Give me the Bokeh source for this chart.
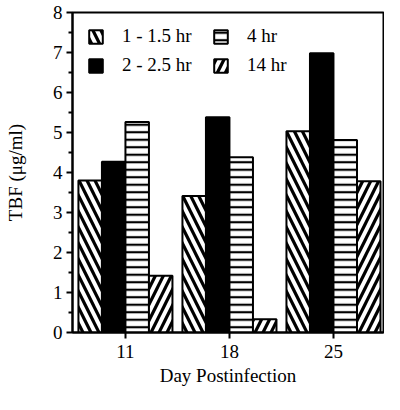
from bokeh.plotting import figure
from bokeh.models import ColumnDataSource, FixedTicker, Legend, LegendItem, Range1d
from bokeh.embed import file_html
from bokeh.resources import INLINE

days = ["11", "18", "25"]
series_names = ["1 - 1.5 hr", "2 - 2.5 hr", "4 hr", "14 hr"]
v_1_15 = [3.80, 3.41, 5.03]
v_2_25 = [4.27, 5.38, 6.98]
v_4 = [5.26, 4.38, 4.81]
v_14 = [1.42, 0.33, 3.78]
y_ticks = [0, 1, 2, 3, 4, 5, 6, 7, 8]
y_minor_ticks = [0.5, 1.5, 2.5, 3.5, 4.5, 5.5, 6.5, 7.5]

FONT = "Liberation Serif"

p = figure(width=384, height=394, output_backend="svg", toolbar_location=None,
           x_range=Range1d(-0.509, 2.481), y_range=Range1d(0, 8),
           min_border_left=72, min_border_top=12, min_border_bottom=62, min_border_right=1)

xs = list(range(len(days)))
w = 0.226
offsets = [-1.5 * w, -0.5 * w, 0.5 * w, 1.5 * w]
styles = [
    dict(fill_color="white", hatch_pattern="\\", hatch_color="black", hatch_scale=16, hatch_weight=3.2),
    dict(fill_color="black"),
    dict(fill_color="white", hatch_pattern="-", hatch_color="black", hatch_scale=7.5, hatch_weight=2.2),
    dict(fill_color="white", hatch_pattern="/", hatch_color="black", hatch_scale=16, hatch_weight=3.2),
]
vals = [v_1_15, v_2_25, v_4, v_14]
items = []
for name, v, off, st in zip(series_names, vals, offsets, styles):
    src = ColumnDataSource(dict(x=[x + off for x in xs], top=v))
    r = p.vbar(x="x", top="top", width=w, source=src, line_color="black",
               line_width=2, **st)
    items.append(LegendItem(label=name, renderers=[r]))

legend = Legend(items=items, location=(15, 256), ncols=2,
                glyph_width=17, glyph_height=17, label_standoff=18,
                label_width=83, label_height=20,
                label_text_font=FONT, label_text_font_size="19px",
                label_text_color="black",
                spacing=7, padding=0, margin=0,
                border_line_color=None, background_fill_alpha=0)
p.add_layout(legend)

p.grid.visible = False
p.outline_line_color = "black"
p.outline_line_width = 2

p.xaxis.ticker = FixedTicker(ticks=xs)
p.xaxis.major_label_overrides = {i: d for i, d in enumerate(days)}
p.yaxis.ticker = FixedTicker(ticks=y_ticks, minor_ticks=y_minor_ticks)
for ax in (p.xaxis[0], p.yaxis[0]):
    ax.axis_line_width = 2
    ax.axis_line_color = "black"
    ax.major_tick_line_width = 2
    ax.major_tick_line_color = "black"
    ax.major_tick_out = 6
    ax.major_tick_in = 0
    ax.major_label_text_font = FONT
    ax.major_label_text_font_size = "19px"
    ax.major_label_text_color = "black"
    ax.axis_label_text_font = FONT
    ax.axis_label_text_font_size = "19px"
    ax.axis_label_text_font_style = "normal"
    ax.axis_label_text_color = "black"
p.xaxis.minor_tick_line_color = None
p.yaxis.minor_tick_line_color = "black"
p.yaxis.minor_tick_line_width = 2
p.yaxis.minor_tick_out = 4
p.yaxis.minor_tick_in = 0
p.xaxis.axis_label = "Day Postinfection"
p.yaxis.axis_label = "TBF (\u03bcg/ml)"
p.xaxis.major_label_standoff = 6
p.xaxis.axis_label_standoff = 4
p.yaxis.major_label_standoff = 4
p.yaxis.axis_label_standoff = 24

open("out.html", "w").write(file_html(p, INLINE))
